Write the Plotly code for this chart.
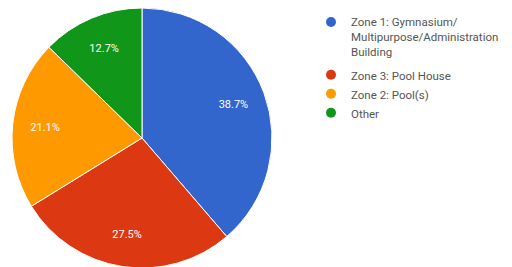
import plotly.graph_objects as go

labels = ["Zone 1: Gymnasium/<br>Multipurpose/Administration<br>Building",
          "Zone 3: Pool House", "Zone 2: Pool(s)", "Other"]
values = [38.7, 27.5, 21.1, 12.7]
colors = ["#3366cc", "#dc3912", "#ff9900", "#109618"]

W, H = 512, 267
dom = dict(x=[4/W, 264/W], y=[(H-260)/H, 1])
fig = go.Figure()
fig.add_trace(go.Pie(
    labels=labels, values=values, sort=False, direction="clockwise", rotation=0,
    marker=dict(colors=colors, line=dict(color="white", width=1)),
    textinfo="none", hoverinfo="none", showlegend=False, domain=dom,
))
fig.add_trace(go.Pie(
    labels=labels, values=values, sort=False, direction="clockwise", rotation=0,
    hole=0.5,
    marker=dict(colors=["rgba(0,0,0,0)"] * len(values), line=dict(width=0)),
    texttemplate="%{percent:.1%}", textposition="inside",
    insidetextorientation="horizontal",
    textfont=dict(color="white", size=11, family="Roboto"),
    hoverinfo="none", showlegend=False, domain=dom,
))
for i, (lab, col) in enumerate(zip(labels, colors)):
    fig.add_trace(go.Scatter(x=[None], y=[None], mode="markers", name=lab,
                             legendgroup="a" if i == 0 else "b",
                             marker=dict(symbol="circle", size=10, color=col),
                             hoverinfo="none"))
fig.update_layout(
    width=W, height=H, margin=dict(l=0, r=0, t=0, b=0),
    paper_bgcolor="white", plot_bgcolor="white",
    xaxis=dict(visible=False), yaxis=dict(visible=False),
    font=dict(family="Roboto", size=11.5, color="#444444"),
    legend=dict(x=303/W, y=1, xanchor="left", yanchor="top",
                font=dict(size=11.5, color="#555555", family="Roboto"),
                itemwidth=30, bgcolor="rgba(0,0,0,0)", valign="top",
                tracegroupgap=5),
)
fig.write_html("out.html")
